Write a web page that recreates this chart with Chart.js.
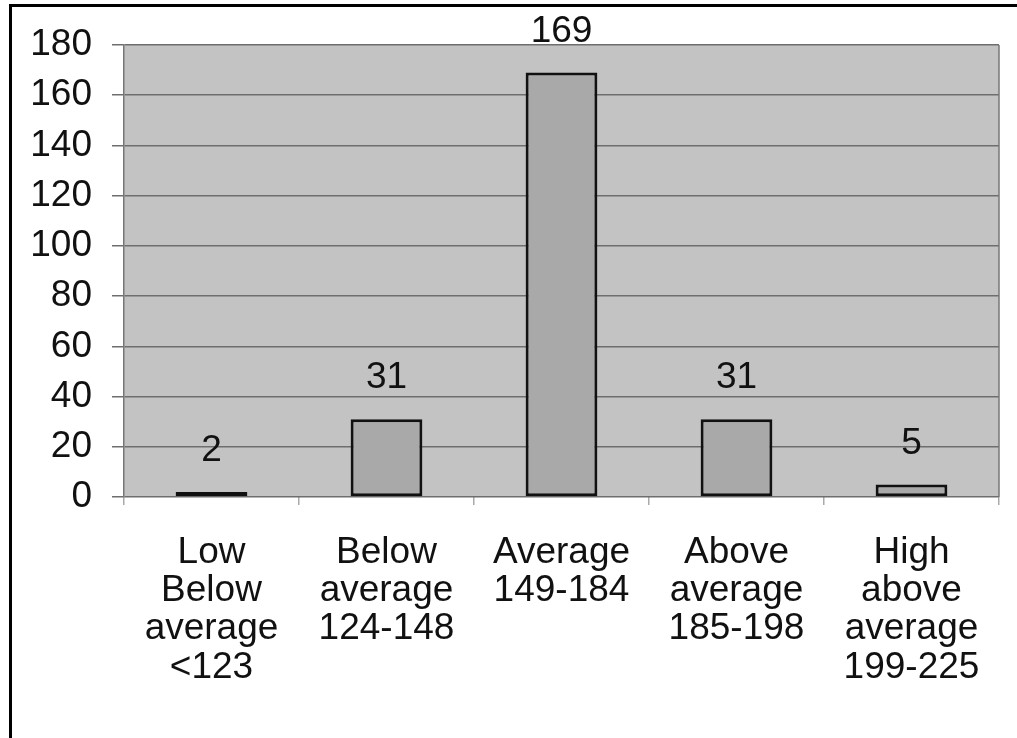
<!DOCTYPE html>
<html>
<head>
<meta charset="utf-8">
<script src="https://cdn.jsdelivr.net/npm/chart.js@4.4.1/dist/chart.umd.min.js"></script>
<style>
  body { margin: 0; background: #fff; }
  #wrap { position: relative; width: 1017px; height: 738px; overflow: hidden; }
  #frame { position: absolute; left: 9px; top: 4px; width: 1100px; height: 800px;
           border-left: 3px solid #000; border-top: 3px solid #000; pointer-events: none; }
  canvas { position: absolute; left: 0; top: 0; }
</style>
</head>
<body>
<div id="wrap">
  <canvas id="score_chart" width="1017" height="738"></canvas>
  <div id="frame"></div>
</div>
<script>
// categories (multi-line labels)
var labels = [
  ["Low", "Below", "average", "<123"],
  ["Below", "average", "124-148"],
  ["Average", "149-184"],
  ["Above", "average", "185-198"],
  ["High", "above", "average", "199-225"]
];
var counts = [2, 31, 169, 31, 5];
var yTicks = [0, 20, 40, 60, 80, 100, 120, 140, 160, 180];

var fontFam = "'Liberation Sans', Arial, sans-serif";

// grey plot area + right edge
var plotBg = {
  id: 'plotBg',
  beforeDraw: function(chart) {
    var a = chart.chartArea, ctx = chart.ctx;
    ctx.save();
    ctx.fillStyle = '#c3c3c3';
    ctx.fillRect(a.left, a.top, a.right - a.left, a.bottom - a.top);
    ctx.restore();
  },
  afterDraw: function(chart) {
    var a = chart.chartArea, ctx = chart.ctx;
    ctx.save();
    ctx.strokeStyle = '#777';
    ctx.lineWidth = 1.5;
    ctx.beginPath();
    ctx.moveTo(a.right, a.top);
    ctx.lineTo(a.right, a.bottom);
    ctx.stroke();
    ctx.restore();
  }
};

// value labels above each bar
var valueLabels = {
  id: 'valueLabels',
  afterDatasetsDraw: function(chart) {
    var ctx = chart.ctx;
    var meta = chart.getDatasetMeta(0);
    ctx.save();
    ctx.font = '37px ' + fontFam;
    ctx.fillStyle = '#111';
    ctx.textAlign = 'center';
    ctx.textBaseline = 'middle';
    meta.data.forEach(function(bar, i) {
      ctx.fillText(String(counts[i]), bar.x, bar.y - 41);
    });
    ctx.restore();
  }
};

var speedCanvas = document.getElementById("score_chart");

var dataFirst = {
  data: counts,
  backgroundColor: '#a9a9a9',
  borderColor: '#111',
  borderWidth: 3,
  borderSkipped: false,
  barPercentage: 0.41,
  categoryPercentage: 1.0
};

var chartOptions = {
  responsive: false,
  animation: false,
  layout: { padding: { left: 0, top: 45, right: 18, bottom: 0 } },
  plugins: { legend: { display: false }, tooltip: { enabled: false } },
  scales: {
    x: {
      offset: true,
      afterFit: function(scale) { scale.height = 241; },
      grid: { drawOnChartArea: false, tickLength: 8, color: '#aaa', lineWidth: 1.5 },
      border: { display: false },
      ticks: {
        color: '#111',
        padding: 29,
        maxRotation: 0,
        autoSkip: false,
        font: { family: fontFam, size: 37, lineHeight: 1.03 }
      }
    },
    y: {
      min: 0,
      max: 180,
      afterFit: function(scale) { scale.width = 124; },
      afterBuildTicks: function(scale) {
        scale.ticks = yTicks.map(function(v) { return { value: v }; });
      },
      grid: { color: '#6e6e6e', lineWidth: 1.5, tickLength: 12 },
      border: { color: '#777', width: 1.5 },
      ticks: {
        color: '#111',
        padding: 20,
        font: { family: fontFam, size: 37 }
      }
    }
  }
};

var barChart = new Chart(speedCanvas, {
  type: 'bar',
  data: { labels: labels, datasets: [dataFirst] },
  options: chartOptions,
  plugins: [plotBg, valueLabels]
});
</script>
</body>
</html>
